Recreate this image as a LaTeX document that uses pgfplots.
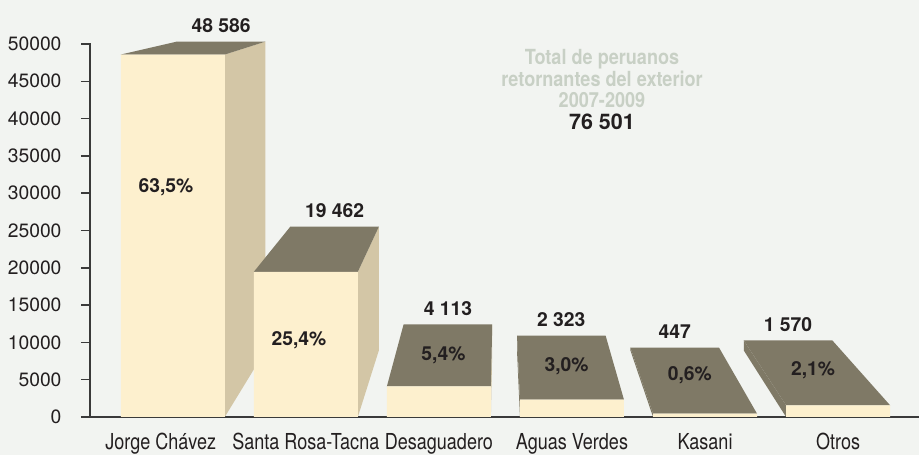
\documentclass[border=0pt]{standalone}
\usepackage{fontspec}
\setmainfont{TeX Gyre Heros}
\newfontfamily\condfont{TeX Gyre Heros}[FakeStretch=0.82]
\newfontfamily\ttlfont{TeX Gyre Heros}[FakeStretch=0.87]
\usepackage{pgfplots}
\usepackage{pgfplotstable}
\pgfplotsset{compat=1.18}
\definecolor{bg}{HTML}{F2F4F1}
\definecolor{cream}{HTML}{FDF0CE}
\definecolor{topc}{HTML}{7F7966}
\definecolor{sidec}{HTML}{D3C6A6}
\definecolor{txt}{HTML}{231F20}
\definecolor{ttl}{HTML}{C8D0C5}
\definecolor{axc}{HTML}{3A3A3A}

% category index, value, value label
\pgfplotstableread{
x v lab
0 48586 {48 586}
1 19462 {19 462}
2 4113 {4 113}
3 2323 {2 323}
4 447 {447}
5 1570 {1 570}
}\data

% share labels and their positions
\pgfplotstableread{
x y pct
-0.051 30831 {63,5\%}
0.948 10322 {25,4\%}
2.034 8300 {5,4\%}
2.960 6836 {3,0\%}
3.886 5563 {0,6\%}
4.812 6300 {2,1\%}
}\pctdata

% perspective: vanishing point (PVX,PVY) in axis units, depth scale PS
\def\PVX{2.459}
\def\PVY{60322}
\def\PS{0.852}
\def\PHW{0.3908}

\begin{document}
\begin{tikzpicture}
\fill[bg] (-90pt,-38pt) rectangle (829pt,417pt);
\begin{axis}[
  at={(0pt,0pt)}, anchor=south west, scale only axis,
  width=829pt, height=373pt,
  xmin=-0.622, xmax=5.608, ymin=0, ymax=50000,
  axis x line*=bottom, axis y line*=left,
  axis line style={draw=axc, line width=1pt},
  clip=false,
  xtick={0,...,5},
  xticklabels={{\hspace*{-24pt}Jorge Chávez}, Santa Rosa-Tacna, Desaguadero, Aguas Verdes, Kasani, Otros},
  xtick style={draw=none},
  xticklabel style={font=\condfont\fontsize{22}{24}\selectfont, text=txt, anchor=base, yshift=-24pt},
  ytick={0,5000,...,50000},
  ytick style={draw=axc, line width=1pt},
  tick align=outside, major tick length=9pt,
  yticklabel style={font=\fontsize{19.3}{22}\selectfont, text=txt, anchor=east, xshift=-16pt},
  /pgf/number format/1000 sep={},
  /pgf/number format/assume math mode=true,
  scaled y ticks=false,
]
% axis lines and y ticks as thin filled strips
\addplot[fill=axc, draw=none, mark=none, forget plot] coordinates {(-0.6273,-94) (5.608,-94) (5.608,94) (-0.6273,94)};
\addplot[fill=axc, draw=none, mark=none, forget plot] coordinates {(-0.6273,0) (-0.6167,0) (-0.6167,50094) (-0.6273,50094)};
\pgfplotsinvokeforeach{0,5000,10000,15000,20000,25000,30000,35000,40000,45000,50000}{
  \edef\tlo{\fpeval{#1-94}}
  \edef\thi{\fpeval{#1+94}}
  \addplot[fill=axc, draw=none, mark=none, forget plot] coordinates {(-0.6896,\tlo) (-0.622,\tlo) (-0.622,\thi) (-0.6896,\thi)};
}
\pgfplotsinvokeforeach{0,...,5}{
  \pgfplotstablegetelem{#1}{v}\of\data
  \edef\pval{\pgfplotsretval}
  \edef\pxl{\fpeval{#1-\PHW}}
  \edef\pxr{\fpeval{#1+\PHW}}
  \edef\pbxl{\fpeval{\PVX+\PS*(\pxl-\PVX)}}
  \edef\pbxr{\fpeval{\PVX+\PS*(\pxr-\PVX)}}
  \edef\pbyt{\fpeval{\PVY+\PS*(\pval-\PVY)}}
  \edef\pbyb{\fpeval{\PVY*(1-\PS)}}
  \ifdim #1pt<\PVX pt
    \addplot[fill=sidec, draw=none, mark=none] coordinates {(\pxr,0) (\pxr,\pval) (\pbxr,\pbyt) (\pbxr,\pbyb)};
  \else
    \addplot[fill=topc, draw=none, mark=none] coordinates {(\pxl,0) (\pxl,\pval) (\pbxl,\pbyt) (\pbxl,\pbyb)};
  \fi
  \addplot[fill=topc, draw=none, mark=none] coordinates {(\pxl,\pval) (\pxr,\pval) (\pbxr,\pbyt) (\pbxl,\pbyt)};
}
\addplot[ybar, bar width=0.7817, fill=cream, draw=none] table[x=x, y=v]{\data};
\addplot[draw=none, mark=none, nodes near coords, point meta=explicit symbolic,
  every node near coord/.append style={anchor=base, yshift=9pt, font=\bfseries\fontsize{19.3}{22}\selectfont, text=txt}]
  table[x expr={\PVX+\PS*(\thisrow{x}-\PVX)}, y expr={\PVY+\PS*(\thisrow{v}-\PVY)}, meta=lab]{\data};
\addplot[draw=none, mark=none, nodes near coords, point meta=explicit symbolic,
  every node near coord/.append style={anchor=center, font=\bfseries\fontsize{19.3}{22}\selectfont, text=txt}]
  table[x=x, y=y, meta=pct]{\pctdata};
\end{axis}
\node[anchor=base, font=\ttlfont\bfseries\fontsize{20.8}{22}\selectfont, text=ttl] at (512pt,352pt) {Total de peruanos};
\node[anchor=base, font=\ttlfont\bfseries\fontsize{20.8}{22}\selectfont, text=ttl] at (512pt,330pt) {retornantes del exterior};
\node[anchor=base, font=\ttlfont\bfseries\fontsize{20.8}{22}\selectfont, text=ttl] at (512pt,309pt) {2007-2009};
\node[anchor=base, font=\bfseries\fontsize{21.5}{22}\selectfont, text=txt] at (512pt,287pt) {76 501};
\pgfresetboundingbox
\useasboundingbox (-90pt,-38pt) rectangle (829pt,417pt);
\end{tikzpicture}
\end{document}
